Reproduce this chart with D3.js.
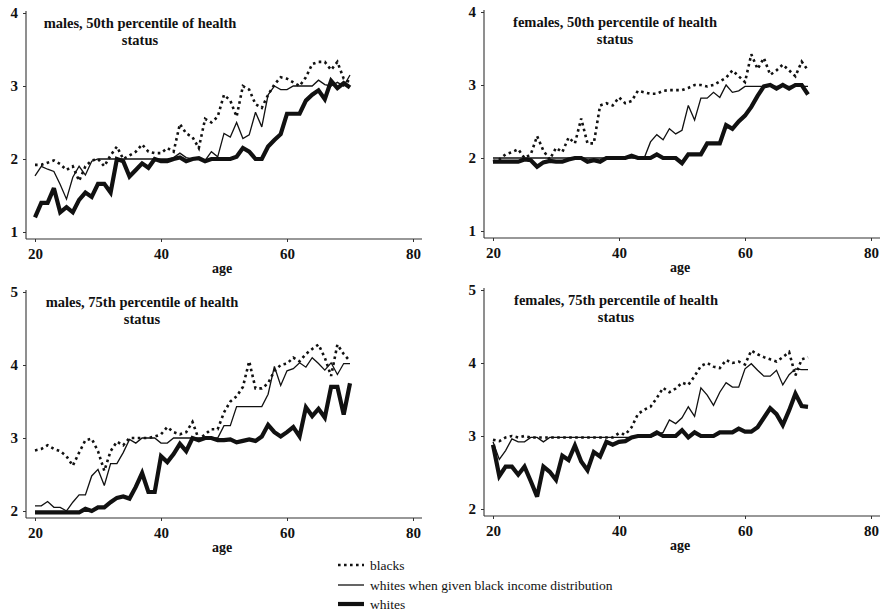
<!DOCTYPE html>
<html>
<head>
<meta charset="utf-8">
<script src="https://cdn.jsdelivr.net/npm/d3@7"></script>
<style>
  html, body { margin: 0; padding: 0; background: #fff; }
  svg { display: block; }
  text { font-family: "Liberation Serif", "Times New Roman", serif; fill: #111; }
</style>
</head>
<body>
<svg id="chart" width="886" height="613"></svg>
<script>
// Age grid shared by all four panels
const ages = [20,21,22,23,24,25,26,27,28,29,30,31,32,33,34,35,36,37,38,39,
              40,41,42,43,44,45,46,47,48,49,50,51,52,53,54,55,56,57,58,59,
              60,61,62,63,64,65,66,67,68,69,70];

const xTicks = [20, 40, 60, 80];
const yTicks50 = [1, 2, 3, 4];
const yTicks75 = [2, 3, 4, 5];

const titles = [
  ["males, 50th percentile of health", "status"],
  ["females, 50th percentile of health", "status"],
  ["males, 75th percentile of health", "status"],
  ["females, 75th percentile of health", "status"]
];

const seriesNames = ["blacks", "whites when given black income distribution", "whites"];

// Males, 50th percentile
const m50Blacks = [1.92,1.92,1.95,1.98,1.93,1.85,1.9,1.7,1.9,1.98,
  2.0,1.9,2.05,2.17,2.0,2.05,2.1,2.2,2.1,2.08,
  2.08,2.15,2.1,2.48,2.35,2.3,2.15,2.55,2.5,2.58,
  2.88,2.8,2.58,3.0,2.95,2.75,2.7,2.88,3.02,3.12,
  3.1,3.05,3.0,3.12,3.3,3.33,3.33,3.22,3.33,3.1,
  3.05];
const m50WhitesAdj = [1.77,1.9,1.86,1.83,1.65,1.45,1.75,1.9,1.78,1.97,
  2.0,2.0,2.0,2.0,2.0,2.0,2.0,2.0,2.0,2.0,
  2.0,2.0,2.02,2.08,2.02,2.0,2.0,1.98,2.1,2.03,
  2.35,2.3,2.5,2.28,2.33,2.64,2.44,2.88,3.0,2.95,
  2.95,3.0,3.0,3.0,3.0,3.08,3.02,3.0,3.05,3.0,
  3.15];
const m50Whites = [1.2,1.4,1.4,1.6,1.27,1.34,1.27,1.44,1.54,1.48,
  1.66,1.66,1.54,2.0,1.97,1.76,1.85,1.94,1.88,2.0,
  1.97,1.97,2.0,2.02,1.97,2.0,2.01,1.97,2.0,2.0,
  2.0,2.0,2.03,2.15,2.1,2.0,2.0,2.17,2.26,2.34,
  2.62,2.62,2.62,2.8,2.88,2.94,2.82,3.07,2.97,3.04,
  2.98];

// Females, 50th percentile
const f50Blacks = [1.95,1.98,2.05,2.08,2.12,2.0,2.05,2.3,2.1,1.98,
  2.14,2.08,2.28,2.2,2.54,2.2,2.2,2.72,2.75,2.72,
  2.83,2.75,2.78,2.92,2.9,2.88,2.88,2.92,2.93,2.93,
  2.93,2.96,3.0,3.0,2.98,3.0,3.05,3.1,3.2,3.12,
  3.04,3.42,3.22,3.37,3.14,3.2,3.28,3.2,3.12,3.32,
  3.2];
const f50WhitesAdj = [2.0,2.0,2.0,2.0,2.0,2.0,2.0,2.0,2.0,2.0,
  2.0,2.0,2.0,2.0,2.0,2.0,2.0,2.0,2.0,2.0,
  2.0,2.0,2.0,2.0,2.0,2.22,2.32,2.25,2.4,2.33,
  2.38,2.72,2.52,2.82,2.82,2.9,2.83,3.0,2.9,2.92,
  2.98,2.98,2.98,2.98,2.98,2.98,2.98,2.98,2.98,2.98,
  2.98];
const f50Whites = [1.95,1.95,1.95,1.95,1.95,1.98,1.97,1.88,1.94,1.96,
  1.95,1.95,1.98,2.0,2.0,1.95,1.97,1.95,2.0,2.0,
  2.0,2.0,2.03,2.0,2.0,2.0,2.05,2.0,2.0,2.0,
  1.93,2.05,2.05,2.05,2.2,2.2,2.2,2.45,2.4,2.5,
  2.58,2.7,2.85,2.98,3.0,2.95,3.0,2.95,3.0,3.0,
  2.87];

// Males, 75th percentile
const m75Blacks = [2.83,2.85,2.9,2.85,2.82,2.75,2.62,2.8,2.97,2.99,
  2.82,2.55,2.82,2.95,2.9,3.0,3.0,3.0,3.0,3.02,
  3.05,3.15,3.08,3.05,3.08,3.22,2.98,3.05,3.12,3.12,
  3.35,3.5,3.57,3.7,4.05,3.68,3.68,3.75,3.92,4.0,
  4.02,4.1,4.05,4.15,4.22,4.28,4.1,3.85,4.28,4.15,
  4.05];
const m75WhitesAdj = [2.07,2.07,2.13,2.05,2.05,2.0,2.12,2.22,2.22,2.48,
  2.57,2.35,2.65,2.65,2.8,2.98,2.93,3.0,3.0,3.0,
  2.93,2.93,3.0,3.0,3.0,3.0,3.0,3.0,3.0,3.0,
  3.17,3.17,3.43,3.43,3.43,3.43,3.43,3.6,3.98,3.72,
  3.92,3.95,4.03,3.97,4.1,4.02,3.93,4.03,3.87,4.02,
  4.02];
const m75Whites = [1.98,1.98,1.98,1.98,1.98,1.98,1.98,1.98,2.03,2.0,
  2.05,2.05,2.12,2.18,2.2,2.17,2.33,2.52,2.26,2.26,
  2.75,2.67,2.78,2.92,2.82,3.0,2.97,3.0,3.0,2.97,
  2.97,2.98,2.94,2.96,2.98,2.96,3.02,3.18,3.08,3.02,
  3.08,3.15,3.02,3.42,3.3,3.4,3.28,3.7,3.7,3.32,
  3.75];

// Females, 75th percentile
const f75Blacks = [2.95,2.93,2.98,3.0,2.98,3.0,2.98,2.98,2.98,2.98,
  2.98,2.98,2.98,2.98,2.98,2.98,2.98,2.98,2.98,2.98,
  3.04,3.02,3.12,3.3,3.36,3.4,3.52,3.66,3.6,3.65,
  3.73,3.7,3.82,3.96,4.0,3.95,3.93,4.04,4.0,4.02,
  3.98,4.17,4.12,4.08,4.05,4.02,4.08,4.15,3.83,4.05,
  4.08];
const f75WhitesAdj = [2.92,2.68,2.8,2.96,2.92,2.92,2.98,2.98,2.92,2.98,
  2.98,2.98,2.98,2.98,2.98,2.98,2.98,2.98,2.98,2.98,
  2.98,2.98,2.98,2.98,2.98,2.98,3.02,3.05,3.22,3.17,
  3.25,3.4,3.27,3.66,3.56,3.42,3.6,3.73,3.67,3.67,
  3.92,3.99,3.9,3.82,3.82,3.9,3.7,3.84,3.92,3.91,
  3.91];
const f75Whites = [2.88,2.45,2.58,2.58,2.47,2.58,2.38,2.17,2.58,2.51,
  2.4,2.73,2.67,2.87,2.65,2.53,2.78,2.72,2.92,2.88,
  2.92,2.93,2.98,3.0,3.0,3.0,3.05,3.0,3.0,3.0,
  3.08,2.98,3.05,3.0,3.0,3.0,3.05,3.05,3.05,3.1,
  3.06,3.06,3.12,3.25,3.38,3.3,3.15,3.35,3.58,3.41,
  3.4];

// Panel layout: axis corner (left), top tick position, title centre
const panels = [
  { title: titles[0], yTicks: yTicks50, series: [m50Blacks, m50WhitesAdj, m50Whites], left: 26,  top: 13,  titleX: 140 },
  { title: titles[1], yTicks: yTicks50, series: [f50Blacks, f50WhitesAdj, f50Whites], left: 484, top: 12,  titleX: 615 },
  { title: titles[2], yTicks: yTicks75, series: [m75Blacks, m75WhitesAdj, m75Whites], left: 26,  top: 292, titleX: 142 },
  { title: titles[3], yTicks: yTicks75, series: [f75Blacks, f75WhitesAdj, f75Whites], left: 484, top: 290, titleX: 616 }
];

// Line styles: dotted, thin solid, thick solid
const styles = [
  { width: 2.6, dash: "2.6 3.4" },
  { width: 1.3, dash: null },
  { width: 4.2, dash: null }
];

const svg = d3.select("#chart");
const ink = "#111";
const axisInk = "#333";

panels.forEach(p => {
  const g = svg.append("g");
  const plotH = 219;
  const x = d3.scaleLinear().domain([20, 80]).range([p.left + 9, p.left + 387]);
  const y = d3.scaleLinear().domain([d3.min(p.yTicks), d3.max(p.yTicks)]).range([p.top + plotH, p.top]);
  const axisY = p.top + 226;

  // x axis
  const xa = g.append("g")
    .attr("transform", `translate(0,${axisY})`)
    .call(d3.axisBottom(x).tickValues(xTicks).tickSize(3).tickSizeOuter(0).tickPadding(6));
  xa.select(".domain").remove();
  xa.selectAll(".tick line").attr("stroke", axisInk).attr("stroke-width", 1);
  xa.selectAll(".tick text")
    .attr("fill", ink)
    .style("font-family", '"Liberation Serif", serif')
    .style("font-size", "15px")
    .style("font-weight", "bold");
  g.append("line")
    .attr("x1", p.left).attr("x2", p.left + 396)
    .attr("y1", axisY).attr("y2", axisY)
    .attr("stroke", axisInk).attr("stroke-width", 1.1);

  // y axis
  const ya = g.append("g")
    .attr("transform", `translate(${p.left},0)`)
    .call(d3.axisLeft(y).tickValues(p.yTicks).tickSize(3).tickSizeOuter(0).tickPadding(5).tickFormat(d3.format("d")));
  ya.select(".domain").remove();
  ya.selectAll(".tick line").attr("stroke", axisInk).attr("stroke-width", 1);
  ya.selectAll(".tick text")
    .attr("fill", ink)
    .style("font-family", '"Liberation Serif", serif')
    .style("font-size", "15px")
    .style("font-weight", "bold");
  g.append("line")
    .attr("x1", p.left).attr("x2", p.left)
    .attr("y1", p.top - 2).attr("y2", axisY)
    .attr("stroke", axisInk).attr("stroke-width", 1.1);

  // axis title
  g.append("text")
    .attr("x", p.left + 196).attr("y", axisY + 34)
    .attr("text-anchor", "middle")
    .style("font-size", "14px").style("font-weight", "bold")
    .text("age");

  // panel title
  p.title.forEach((line, i) => {
    g.append("text")
      .attr("x", p.titleX).attr("y", p.top + 15 + i * 17)
      .attr("text-anchor", "middle")
      .style("font-size", "14.5px").style("font-weight", "bold")
      .text(line);
  });

  // series: thick first, dotted on top
  const line = d3.line().x((d, i) => x(ages[i])).y(d => y(d));
  [2, 1, 0].forEach(k => {
    g.append("path")
      .datum(p.series[k])
      .attr("d", line)
      .attr("fill", "none")
      .attr("stroke", ink)
      .attr("stroke-width", styles[k].width)
      .attr("stroke-linejoin", "miter")
      .attr("stroke-miterlimit", 3)
      .attr("stroke-dasharray", styles[k].dash);
  });
});

// legend
const legendY = [565, 585, 604];
const legend = svg.append("g");
seriesNames.forEach((name, k) => {
  legend.append("line")
    .attr("x1", 338).attr("x2", 364)
    .attr("y1", legendY[k]).attr("y2", legendY[k])
    .attr("stroke", ink)
    .attr("stroke-width", styles[k].width)
    .attr("stroke-dasharray", styles[k].dash);
  legend.append("text")
    .attr("x", 370).attr("y", legendY[k] + 4.5)
    .style("font-size", "13.5px")
    .text(name);
});
</script>
</body>
</html>
